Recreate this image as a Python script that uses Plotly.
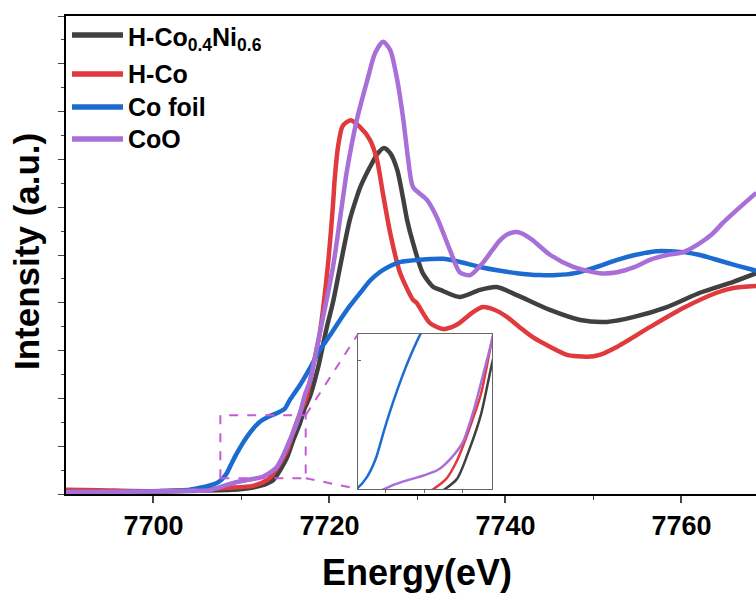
import plotly.graph_objects as go

# ---------------- data ----------------
HCONI_E = [7690, 7699.6, 7705.3, 7709.8, 7712.1, 7713.6, 7714.4, 7715.2, 7715.85, 7716.65,
           7717.2, 7717.8, 7718.7, 7719.7, 7720.4, 7721.2, 7722.3, 7723.1, 7723.5, 7724.6,
           7725.5, 7726.2, 7726.9, 7727.7, 7728.4, 7728.8, 7729.5, 7730.6, 7731.8, 7732.6,
           7734.8, 7737.1, 7739.0, 7741.3, 7745.05, 7748.5, 7751.5, 7754.5, 7758.35, 7762.1,
           7765.9, 7768.5]
HCONI_I = [0.04, 0.05, 0.07, 0.10, 0.17, 0.29, 0.50, 0.77, 1.11, 1.48,
           1.80, 2.05, 2.64, 3.49, 4.01, 4.75, 5.73, 6.21, 6.42, 6.84,
           7.13, 7.24, 7.13, 6.78, 6.15, 5.75, 5.25, 4.62, 4.33, 4.27,
           4.12, 4.27, 4.33, 4.16, 3.85, 3.64, 3.60, 3.70, 3.91, 4.21,
           4.44, 4.62]

HCO_E = [7690, 7693.9, 7699.6, 7705.3, 7708.35, 7711.3, 7712.9, 7713.6, 7714.4, 7715.2,
         7715.85, 7716.65, 7717.4, 7718.1, 7718.9, 7719.8, 7720.4, 7720.6, 7721.0, 7721.5,
         7722.4, 7723.45, 7724.6, 7725.4, 7726.1, 7726.9, 7728.0, 7729.5, 7729.9, 7731.4,
         7732.9, 7733.9, 7734.8, 7736.2, 7737.4, 7738.8, 7740.2, 7741.6, 7743.1, 7745.05,
         7747.0, 7749.3, 7750.7, 7752.7, 7756.4, 7760.2, 7764.0, 7765.9, 7768.5]
HCO_I = [0.09, 0.08, 0.06, 0.09, 0.13, 0.17, 0.29, 0.42, 0.65, 0.92,
         1.28, 1.69, 2.03, 2.64, 3.37, 4.75, 6.05, 6.60, 7.30, 7.70,
         7.82, 7.68, 7.41, 6.99, 6.26, 5.46, 4.64, 4.06, 4.00, 3.58,
         3.45, 3.49, 3.58, 3.79, 3.91, 3.85, 3.70, 3.49, 3.28, 3.08,
         2.91, 2.87, 2.91, 3.08, 3.49, 3.89, 4.21, 4.31, 4.35]

COFOIL_E = [7690, 7695.1, 7700.7, 7704.15, 7705.3, 7706.4, 7707.2, 7707.8, 7708.35, 7708.9,
            7709.5, 7710.1, 7710.6, 7711.3, 7712.1, 7713.0, 7714.0, 7714.9, 7715.5, 7716.65,
            7717.8, 7718.9, 7720.1, 7721.2, 7722.3, 7723.5, 7724.6, 7725.7, 7726.9, 7728.0,
            7730.3, 7732.9, 7734.5, 7737.1, 7739.4, 7741.3, 7743.9, 7745.85, 7747.9, 7749.3,
            7750.7, 7752.7, 7754.7, 7757.2, 7758.7, 7760.2, 7762.1, 7764.0, 7766.1, 7768.5]
COFOIL_I = [0.04, 0.04, 0.06, 0.09, 0.13, 0.18, 0.23, 0.31, 0.44, 0.65,
            0.86, 1.05, 1.19, 1.36, 1.51, 1.61, 1.69, 1.78, 1.97, 2.28,
            2.64, 3.01, 3.33, 3.64, 3.93, 4.21, 4.46, 4.64, 4.77, 4.85,
            4.90, 4.92, 4.87, 4.75, 4.67, 4.62, 4.58, 4.58, 4.62, 4.69,
            4.77, 4.90, 5.00, 5.08, 5.08, 5.06, 5.00, 4.90, 4.79, 4.67]

COO_E = [7690, 7699.6, 7704.15, 7706.4, 7708.35, 7709.5, 7710.6, 7711.5, 7712.4, 7713.2,
         7714.0, 7714.7, 7715.5, 7716.1, 7716.65, 7717.2, 7717.8, 7718.9, 7720.4, 7721.5,
         7722.0, 7723.1, 7724.3, 7725.2, 7726.1, 7726.9, 7727.7, 7728.4, 7728.95, 7729.5,
         7731.1, 7732.2, 7733.7, 7734.8, 7736.0, 7737.4, 7738.5, 7739.4, 7740.3, 7741.3,
         7742.2, 7743.1, 7745.1, 7747.7, 7750.7, 7752.7, 7754.7, 7756.4, 7758.35, 7760.2,
         7762.1, 7763.5, 7764.7, 7766.65, 7768.5]
COO_I = [0.04, 0.05, 0.07, 0.08, 0.19, 0.25, 0.29, 0.32, 0.36, 0.44,
         0.56, 0.79, 1.13, 1.39, 1.69, 2.07, 2.38, 3.36, 4.75, 6.15,
         6.78, 7.82, 8.66, 9.23, 9.46, 9.29, 8.66, 7.82, 6.99, 6.42,
         6.15, 5.79, 5.10, 4.64, 4.58, 4.83, 5.10, 5.31, 5.44, 5.48,
         5.42, 5.31, 5.00, 4.75, 4.62, 4.64, 4.75, 4.90, 5.00, 5.06,
         5.25, 5.44, 5.67, 6.00, 6.30]

SERIES = [
    ("H-Co<sub>0.4</sub>Ni<sub>0.6</sub>", HCONI_E, HCONI_I, "#404040"),
    ("H-Co", HCO_E, HCO_I, "#e0393e"),
    ("Co foil", COFOIL_E, COFOIL_I, "#1c6bd0"),
    ("CoO", COO_E, COO_I, "#a86fd8"),
]

X_RANGE = [7690.06, 7768.47]
Y_RANGE = [0, 10]
X_TICKS = [7700, 7720, 7740, 7760]

ZOOM_BOX_X = [7707.6, 7717.3]
ZOOM_BOX_Y = [0.33, 1.65]
INSET_X_RANGE = [7707.2, 7715.9]
INSET_Y_RANGE = [0.22, 1.35]
INSET_X_TICKS = [7709, 7711.5, 7714]
INSET_Y_TICKS = [1.16]

# ---------------- figure ----------------
FONT = "Liberation Sans, Arial, sans-serif"
fig = go.Figure()

for name, ex, iy, col in SERIES:
    fig.add_trace(go.Scatter(x=ex, y=iy, mode="lines", name=name,
                             line=dict(color=col, width=4.5, shape="spline", smoothing=0.7),
                             showlegend=False, xaxis="x", yaxis="y"))
for name, ex, iy, col in SERIES:
    fig.add_trace(go.Scatter(x=ex, y=iy, mode="lines", name=name,
                             line=dict(color=col, width=2.5, shape="spline", smoothing=0.7),
                             showlegend=False, xaxis="x2", yaxis="y2"))

INSET_DOM_X = [0.4232, 0.6174]
INSET_DOM_Y = [0.0105, 0.3347]

fig.update_layout(
    width=756, height=593,
    margin=dict(l=66, r=0, t=16, b=99),
    paper_bgcolor="white", plot_bgcolor="white",
    font=dict(family=FONT, color="black"),
    xaxis=dict(range=X_RANGE, tickvals=X_TICKS, ticks="outside", ticklen=7, tickwidth=1.5,
               showline=True, linecolor="black", linewidth=1.5, mirror=True,
               showgrid=False, zeroline=False,
               tickfont=dict(family=FONT, size=27, weight="bold", color="black"),
               minor=dict(dtick=10, ticks="outside", ticklen=4, tickwidth=1.2, showgrid=False)),
    yaxis=dict(range=Y_RANGE, dtick=1, ticks="outside", ticklen=6, tickwidth=1.2,
               showline=True, linecolor="black", linewidth=1.5, mirror=False,
               showticklabels=False, showgrid=False, zeroline=False,
               minor=dict(dtick=0.5, ticks="outside", ticklen=3, tickwidth=1.0, showgrid=False)),
    xaxis2=dict(domain=INSET_DOM_X, anchor="y2", range=INSET_X_RANGE, tickvals=INSET_X_TICKS,
                ticks="outside", ticklen=3, tickwidth=1, tickcolor="#666",
                showticklabels=False, showline=True, mirror=True, linecolor="#666",
                linewidth=1, showgrid=False, zeroline=False),
    yaxis2=dict(domain=INSET_DOM_Y, anchor="x2", range=INSET_Y_RANGE, tickvals=INSET_Y_TICKS,
                ticks="inside", ticklen=3, tickwidth=1, tickcolor="#666",
                showticklabels=False, showline=True, mirror=True, linecolor="#666",
                linewidth=1, showgrid=False, zeroline=False),
)

# zoom box and connectors (dashed)
DASH_COL = "#c45cd6"
fig.add_shape(type="rect", xref="x", yref="y", x0=ZOOM_BOX_X[0], x1=ZOOM_BOX_X[1],
              y0=ZOOM_BOX_Y[0], y1=ZOOM_BOX_Y[1],
              line=dict(color=DASH_COL, width=2, dash="dash"), fillcolor="rgba(0,0,0,0)")

def paper_to_data(px_, py_):
    ex = X_RANGE[0] + px_ * (X_RANGE[1] - X_RANGE[0])
    ey = Y_RANGE[0] + py_ * (Y_RANGE[1] - Y_RANGE[0])
    return ex, ey

tl = paper_to_data(INSET_DOM_X[0], INSET_DOM_Y[1])
bl = paper_to_data(INSET_DOM_X[0], INSET_DOM_Y[0])
fig.add_shape(type="line", xref="x", yref="y", x0=ZOOM_BOX_X[1], y0=ZOOM_BOX_Y[1],
              x1=tl[0], y1=tl[1], line=dict(color=DASH_COL, width=2, dash="dash"))
fig.add_shape(type="line", xref="x", yref="y", x0=ZOOM_BOX_X[1], y0=ZOOM_BOX_Y[0],
              x1=bl[0], y1=bl[1], line=dict(color=DASH_COL, width=2, dash="dash"))

# manual legend
PLOT_W, PLOT_H, L, B = 690, 478, 66, 494
def px2paper(px_, py_):
    return (px_ - L) / PLOT_W, (B - py_) / PLOT_H

LEG_Y = [35, 74, 107, 139]
TEXT_DY = [4, 0, 0, 0]
for (name, ex, iy, col), ly, dy in zip(SERIES, LEG_Y, TEXT_DY):
    x0, y0 = px2paper(72, ly)
    x1, _ = px2paper(123, ly)
    fig.add_shape(type="line", xref="paper", yref="paper", x0=x0, x1=x1, y0=y0, y1=y0,
                  line=dict(color=col, width=5.5))
    tx, ty = px2paper(126, ly + dy)
    fig.add_annotation(xref="paper", yref="paper", x=tx, y=ty, text=name, showarrow=False,
                       xanchor="left", yanchor="middle",
                       font=dict(family=FONT, size=25, weight="bold", color="black"))

# axis titles
ax, ay = px2paper(417, 572)
fig.add_annotation(xref="paper", yref="paper", x=ax, y=ay, text="Energy(eV)", showarrow=False,
                   xanchor="center", yanchor="middle",
                   font=dict(family=FONT, size=36, weight="bold", color="black"))
bx, by = px2paper(27, 252)
fig.add_annotation(xref="paper", yref="paper", x=bx, y=by, text="Intensity (a.u.)",
                   showarrow=False, textangle=-90, xanchor="center", yanchor="middle",
                   font=dict(family=FONT, size=35, weight="bold", color="black"))

fig.write_html("out.html")
